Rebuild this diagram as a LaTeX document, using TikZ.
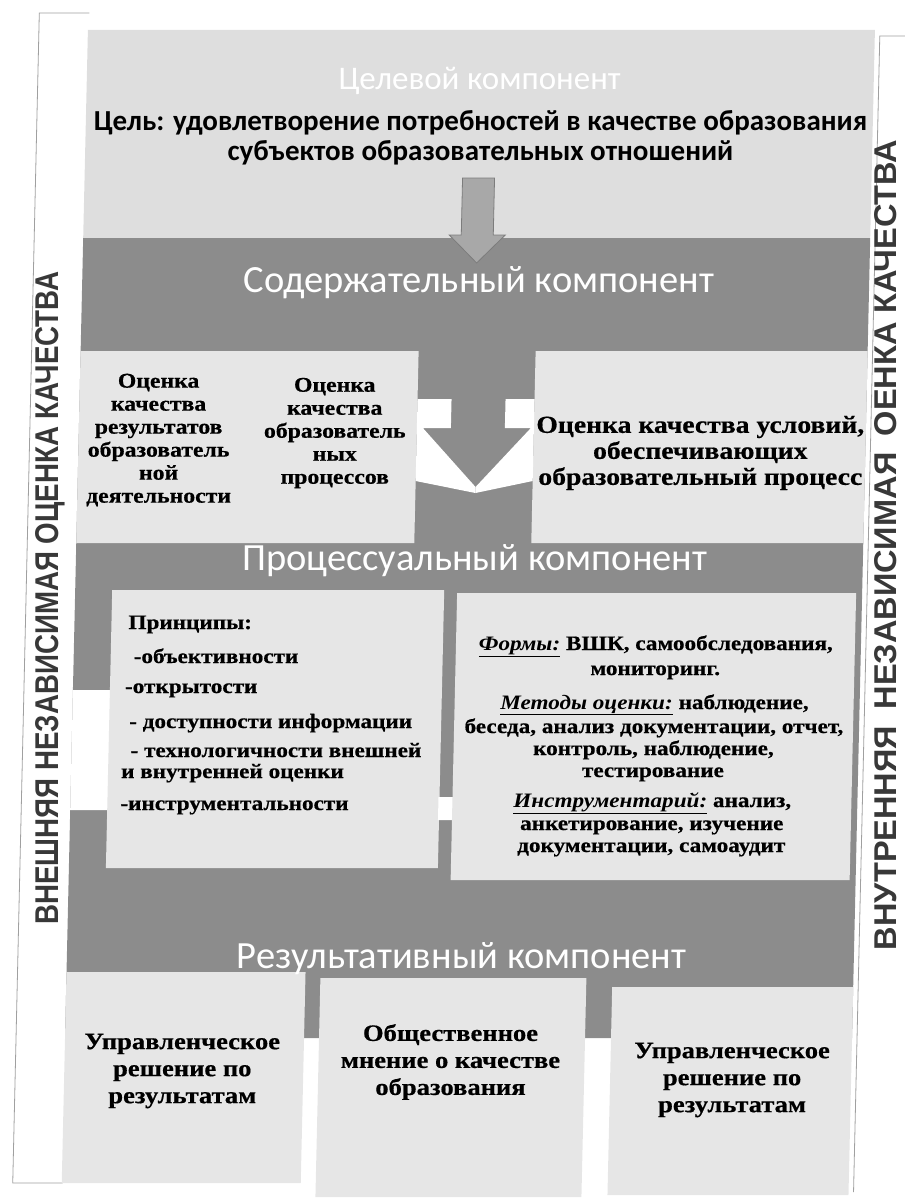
\documentclass[tikz,border=0pt]{standalone}
\usepackage{fontspec}
\usepackage{graphicx}
\setmainfont{Liberation Serif}
\newfontfamily\calfont{Carlito}
\newfontfamily\serfont[FakeStretch=1.13, BoldFeatures={FakeBold=0.6}]{Liberation Serif}
\newfontfamily\vfont{Liberation Sans}
\definecolor{bandgray}{HTML}{8C8C8C}
\definecolor{boxgray}{HTML}{E6E6E6}
\definecolor{topgray}{HTML}{DEDEDE}
\definecolor{arrowgray}{HTML}{A8A8A8}
\definecolor{arrowline}{HTML}{7C7C7C}
\definecolor{linegray}{HTML}{A0A0A0}
\definecolor{vtext}{HTML}{383838}
\tikzset{
  band/.style={text=white, font=\calfont\fontsize{38.5}{40}\selectfont, inner sep=0pt, anchor=base},
  goaltext/.style={font=\calfont\bfseries\fontsize{29}{30}\selectfont, align=center, inner sep=0pt},
  coltext/.style={font=\serfont\bfseries\fontsize{21}{23}\selectfont, align=center, inner sep=0pt},
  bigtext/.style={font=\serfont\bfseries\fontsize{24.5}{26}\selectfont, align=center, inner sep=0pt},
  listtext/.style={font=\serfont\bfseries\fontsize{20.5}{23}\selectfont, inner sep=0pt},
  bottext/.style={font=\serfont\bfseries\fontsize{23.5}{27}\selectfont, align=center, inner sep=0pt},
  vlabel/.style={text=vtext, inner sep=0pt, rotate=90},
  bracket/.style={draw=linegray, line width=0.8pt},
}
\begin{document}
\begin{tikzpicture}[x=1pt,y=-1pt]
\useasboundingbox (0,0) rectangle (907,1199);
\begin{scope}[xshift=13.6pt, xslant=0.0227]
  % outer brackets
  \coordinate (bl1) at (76,13);
  \coordinate (bl2) at (26,13);
  \coordinate (bl3) at (26,1183);
  \coordinate (bl4) at (76,1183);
  \draw[bracket] (bl1) -- (bl2) -- (bl3) -- (bl4);
  \coordinate (br1) at (892,36);
  \coordinate (br2) at (867,36);
  \coordinate (br3) at (867,1192);
  \draw[bracket] (br1) -- (br2) -- (br3);
  % background areas
  \fill[topgray] (75,30) rectangle (862,238);
  \fill[bandgray] (75,238) rectangle (862,1038);
  % top arrow
  \fill[arrowgray, draw=arrowline, line width=0.8pt]
    (453,178) -- (485,178) -- (485,235) -- (497,235) -- (469,263) -- (441,235) -- (453,235) -- cycle;
  % upper boxes
  \fill[boxgray] (75,351) rectangle (413,543);
  \fill[boxgray] (530,351) rectangle (862,543);
  % white arrow outline between upper boxes
  \fill[white] (413,399) -- (447,399) -- (447,428) -- (419,428) -- (473,487) -- (473,493) -- (413,481) -- cycle;
  \fill[white] (530,399) -- (501,399) -- (501,428) -- (527,428) -- (473,487) -- (473,493) -- (530,481) -- cycle;
  % process boxes
  \fill[white] (75,690) rectangle (113,810);
  \fill[boxgray] (112,590) rectangle (444,868);
  \fill[white] (443,797) rectangle (458,820);
  \fill[boxgray] (457,593) rectangle (856,880);
  % result boxes
  \fill[boxgray] (75,972) rectangle (314,1183);
  \fill[boxgray] (329,978) rectangle (595,1197);
  \fill[boxgray] (621,987) rectangle (862,1195);

  % titles
  \node[band, font=\calfont\fontsize{33}{35}\selectfont] (tgoal) at (468,89) {Целевой компонент};
  \node[goaltext] (goal) at (470,138) {Цель: удовлетворение потребностей в качестве образования\\субъектов образовательных отношений};
  \node[band] (tcont) at (472,292) {Содержательный компонент};
  \node[band] (tproc) at (474,570) {Процессуальный компонент};
  \node[band] (tres) at (470,968) {Результативный компонент};

  % content texts
  \node[coltext] (cres) at (155,440) {Оценка\\качества\\результатов\\образователь\\ной\\деятельности};
  \node[coltext] (cproc) at (331,433) {Оценка\\качества\\образователь\\ных\\процессов};
  \node[bigtext] (ccond) at (697,453) {Оценка качества условий,\\обеспечивающих\\образовательный процесс};

  % principles
  \node[listtext, anchor=base west] (p1) at (129,629) {Принципы:};
  \node[listtext, anchor=base west] (p2) at (135,663) {-объективности};
  \node[listtext, anchor=base west] (p3) at (127,693) {-открытости};
  \node[listtext, anchor=base west] (p4) at (132,728) {- доступности информации};
  \node[listtext, anchor=base west] (p5) at (134,757) {- технологичности внешней};
  \node[listtext, anchor=base west] (p6) at (125,778) {и внутренней оценки};
  \node[listtext, anchor=base west] (p7) at (125,810) {-инструментальности};

  % forms
  \node[listtext, anchor=base] (f1) at (657,650) {\underline{\textit{Формы:}} ВШК, самообследования,};
  \node[listtext, anchor=base] (f2) at (657,675) {мониторинг.};
  \node[listtext, anchor=base] (f3) at (657,709) {\underline{\textit{Методы оценки:}} наблюдение,};
  \node[listtext, anchor=base] (f4) at (657,733) {беседа, анализ документации, отчет,};
  \node[listtext, anchor=base] (f5) at (657,755) {контроль, наблюдение,};
  \node[listtext, anchor=base] (f6) at (657,777) {тестирование};
  \node[listtext, anchor=base] (f7) at (657,807) {\underline{\textit{Инструментарий:}} анализ,};
  \node[listtext, anchor=base] (f8) at (657,830) {анкетирование, изучение};
  \node[listtext, anchor=base] (f9) at (657,852) {документации, самоаудит};

  % results
  \node[bottext] (r1) at (193,1071) {Управленческое\\решение по\\результатам};
  \node[bottext] (r2) at (461,1062) {Общественное\\мнение о качестве\\образования};
  \node[bottext] (r3) at (743,1080) {Управленческое\\решение по\\результатам};

  % side labels
  \node[vlabel] (vleft) at (50,598) {\resizebox{653pt}{23pt}{\vfont\bfseries ВНЕШНЯЯ НЕЗАВИСИМАЯ ОЦЕНКА КАЧЕСТВА}};
  \node[vlabel] (vright) at (884,545) {\resizebox{810pt}{22pt}{\vfont\bfseries ВНУТРЕННЯЯ\hspace{0.5em}НЕЗАВИСИМАЯ\hspace{0.5em}ОЕНКА КАЧЕСТВА}};
\end{scope}
\end{tikzpicture}
\end{document}
